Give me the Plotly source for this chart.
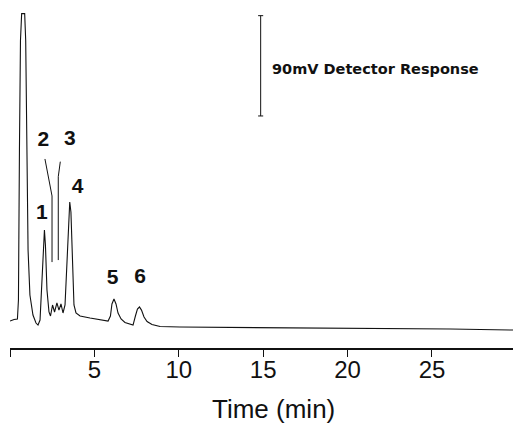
import plotly.graph_objects as go

# Chromatogram trace (time in min, detector response in mV relative to baseline)
time_min = [0.0, 0.24, 0.44, 0.50, 0.56, 0.62, 0.69, 0.87, 0.93, 0.99, 1.07, 1.18, 1.36, 1.54, 1.66,
            1.78, 1.90, 1.98, 2.04, 2.10, 2.19, 2.31, 2.40, 2.52, 2.64, 2.78, 2.90, 3.02, 3.14, 3.26,
            3.38, 3.47, 3.54, 3.61, 3.70, 3.79, 3.91, 4.15, 4.74, 5.33, 5.81, 5.95, 6.04, 6.16, 6.28,
            6.40, 6.58, 6.81, 7.11, 7.29, 7.43, 7.55, 7.67, 7.79, 7.94, 8.12, 8.41, 8.89, 10.07,
            14.2, 20.1, 26.1, 29.8]
response_mv = [-1.8, -0.4, 0.0, 17, 152, 250, 274, 274, 250, 152, 62, 21.5, 3.6, -3.6, -5.4,
               -0.9, 35, 70.8, 79.8, 66, 26, 6.3, 2.7, 12.6, 6.3, 14.4, 8, 13.5, 5.4, 12.6,
               53, 93, 105, 96, 44, 12.6, 5.4, 2.7, 0.9, -0.9, -1.8, 2.7, 13.5, 18, 13.5,
               5.4, 0.0, -3.1, -4.9, -5.4, 2.7, 9, 10.8, 8, 1.8, -2.2, -4.9, -6.7, -7.2,
               -7.6, -8.0, -9.0, -9.9]

# Peak labels
peak_labels = ["1", "2", "3", "4", "5", "6"]
label_time = [1.88, 1.97, 3.54, 4.00, 6.08, 7.70]
label_mv = [94.2, 159.9, 160.6, 118.0, 36.5, 36.8]

# Leader lines for peaks 2 and 3
leader2_time = [2.07, 2.43, 2.49, 2.49]
leader2_mv = [143.6, 115.8, 110.4, 51.1]
leader3_time = [2.98, 2.86, 2.86]
leader3_mv = [141.2, 127.7, 52.9]

# Scale bar
scale_time = 14.85
scale_low = 182.2
scale_span = 90.0
scale_text = "90mV Detector Response"

# Axis ticks
tick_vals = [0, 5, 10, 15, 20, 25]
tick_text = ["", "5", "10", "15", "20", "25"]

ink = "#111111"

fig = go.Figure()
fig.add_trace(go.Scatter(x=time_min, y=response_mv, mode="lines",
                         line=dict(color=ink, width=1.1), hoverinfo="skip", showlegend=False))
fig.add_trace(go.Scatter(x=leader2_time, y=leader2_mv, mode="lines",
                         line=dict(color=ink, width=1), hoverinfo="skip", showlegend=False))
fig.add_trace(go.Scatter(x=leader3_time, y=leader3_mv, mode="lines",
                         line=dict(color=ink, width=1), hoverinfo="skip", showlegend=False))
fig.add_trace(go.Scatter(x=label_time, y=label_mv, mode="text", text=peak_labels,
                         textfont=dict(family="Liberation Sans, Arial, sans-serif", size=21,
                                       color=ink, weight="bold"),
                         hoverinfo="skip", showlegend=False))

# scale bar
scale_high = scale_low + scale_span
fig.add_shape(type="line", x0=scale_time, x1=scale_time, y0=scale_low, y1=scale_high,
              line=dict(color=ink, width=1))
fig.add_shape(type="line", x0=scale_time - 0.15, x1=scale_time + 0.15, y0=scale_low, y1=scale_low,
              line=dict(color=ink, width=1))
fig.add_shape(type="line", x0=scale_time - 0.15, x1=scale_time + 0.15, y0=scale_high, y1=scale_high,
              line=dict(color=ink, width=1))
fig.add_annotation(x=scale_time + 0.55, y=scale_low + scale_span * 0.47, text=scale_text,
                   showarrow=False, xanchor="left", yanchor="middle",
                   font=dict(family="DejaVu Sans, sans-serif", size=14.5, color=ink, weight="bold"))

# axis title as annotation
fig.add_annotation(x=15.64, y=-0.175, xref="x", yref="paper", text="Time (min)",
                   showarrow=False, xanchor="center", yanchor="middle",
                   font=dict(family="Liberation Sans, Arial, sans-serif", size=26, color=ink))

fig.update_layout(
    width=517, height=423,
    margin=dict(l=10, r=4, t=0, b=75, autoexpand=False),
    paper_bgcolor="white", plot_bgcolor="white",
    hovermode=False,
    xaxis=dict(range=[0, 29.8], showgrid=False, zeroline=False, automargin=False,
               showline=True, linecolor=ink, linewidth=1.5,
               ticks="outside", ticklen=7, tickwidth=1, tickcolor=ink,
               tickvals=tick_vals, ticktext=tick_text, ticklabelstandoff=-8,
               tickfont=dict(family="Liberation Sans, Arial, sans-serif",
                             size=24, color=ink)),
    yaxis=dict(range=[-26.0, 286.25], visible=False, automargin=False),
)

fig.write_html("out.html", config={"displayModeBar": False},
               post_script="document.body.style.margin='0';document.body.style.overflow='hidden';")
